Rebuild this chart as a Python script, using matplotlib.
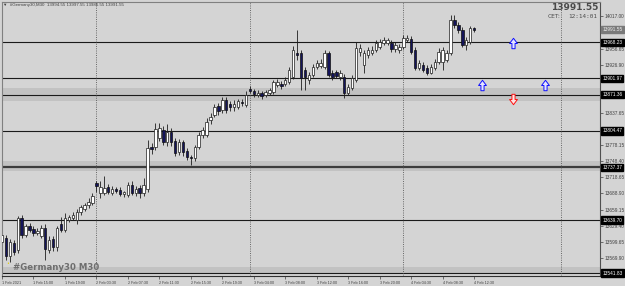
import matplotlib
matplotlib.use('Agg')
import matplotlib.pyplot as plt
import matplotlib.transforms as mtransforms
from matplotlib.path import Path
from matplotlib import font_manager
import numpy as np

# M30 bars, bar 0 = 1 Feb 11:00
opens = [13600, 13606, 13573, 13597, 13584, 13643, 13612, 13628, 13623, 13615,
         13610, 13625, 13585, 13605, 13590, 13632, 13622, 13640, 13644, 13640,
         13655, 13660, 13667, 13672, 13708, 13690, 13690, 13700, 13690, 13697,
         13696, 13687, 13686, 13705, 13690, 13699, 13690, 13697, 13775, 13775,
         13791, 13806, 13784, 13803, 13786, 13765, 13784, 13767, 13757, 13754,
         13775, 13797, 13797, 13825, 13834, 13851, 13843, 13862, 13854, 13849,
         13849, 13858, 13852, 13882, 13878, 13871, 13875, 13871, 13875, 13877,
         13889, 13891, 13891, 13895, 13904, 13949, 13948, 13917, 13899, 13908,
         13923, 13925, 13923, 13949, 13912, 13914, 13904, 13904, 13875, 13884,
         13899, 13950, 13926, 13945, 13948, 13954, 13960, 13967, 13967, 13967,
         13956, 13954, 13960, 13973, 13974, 13954, 13921, 13926, 13921, 13912,
         13921, 13932, 13932, 13936, 13949, 14009, 14000, 13991, 13963, 13969,
         13994.55]
highs = [13618, 13612, 13605, 13603, 13648, 13650, 13632, 13634, 13628, 13625,
         13630, 13632, 13610, 13610, 13628, 13646, 13652, 13650, 13655, 13660,
         13667, 13672, 13680, 13690, 13712, 13712, 13722, 13706, 13703, 13700,
         13700, 13694, 13710, 13712, 13703, 13704, 13718, 13788, 13782, 13819,
         13819, 13814, 13817, 13810, 13791, 13790, 13788, 13773, 13760, 13779,
         13803, 13812, 13828, 13838, 13854, 13856, 13867, 13867, 13860, 13862,
         13864, 13864, 13878, 13888, 13882, 13880, 13878, 13880, 13884, 13899,
         13901, 13897, 13904, 13923, 13962, 13991, 13954, 13923, 13913, 13928,
         13936, 13938, 13954, 13952, 13917, 13917, 13917, 13910, 13891, 13908,
         13969, 13965, 13954, 13960, 13962, 13973, 13975, 13978, 13976, 13973,
         13969, 13965, 13982, 13982, 13980, 13960, 13936, 13932, 13926, 13928,
         13938, 13958, 13960, 13954, 14019, 14019, 14006, 13997, 13978, 13998,
         13997.55]
lows = [13590, 13566, 13562, 13575, 13578, 13606, 13608, 13617, 13610, 13612,
        13606, 13565, 13578, 13582, 13583, 13617, 13618, 13636, 13640, 13632,
        13650, 13656, 13662, 13668, 13692, 13680, 13686, 13688, 13686, 13689,
        13684, 13683, 13683, 13686, 13684, 13680, 13685, 13692, 13762, 13769,
        13786, 13779, 13777, 13777, 13758, 13760, 13758, 13751, 13742, 13749,
        13771, 13791, 13793, 13817, 13830, 13834, 13838, 13838, 13841, 13841,
        13845, 13851, 13849, 13875, 13867, 13867, 13864, 13867, 13871, 13873,
        13886, 13882, 13888, 13891, 13901, 13935, 13880, 13880, 13891, 13904,
        13919, 13921, 13919, 13904, 13899, 13902, 13899, 13865, 13871, 13880,
        13895, 13943, 13912, 13939, 13945, 13950, 13956, 13963, 13963, 13950,
        13950, 13949, 13956, 13969, 13947, 13917, 13917, 13914, 13908, 13910,
        13917, 13928, 13917, 13932, 13945, 13995, 13986, 13960, 13954, 13965,
        13986.55]
closes = [13612, 13573, 13600, 13580, 13643, 13612, 13628, 13621, 13615, 13620,
          13625, 13587, 13603, 13590, 13625, 13621, 13643, 13646, 13650, 13655,
          13663, 13668, 13674, 13685, 13703, 13701, 13699, 13692, 13697, 13693,
          13688, 13691, 13705, 13690, 13698, 13690, 13705, 13773, 13771, 13808,
          13810, 13784, 13803, 13784, 13764, 13784, 13765, 13756, 13754, 13775,
          13797, 13806, 13821, 13830, 13849, 13841, 13862, 13843, 13849, 13854,
          13860, 13856, 13871, 13878, 13873, 13875, 13869, 13876, 13880, 13895,
          13895, 13888, 13899, 13917, 13954, 13945, 13902, 13904, 13908, 13923,
          13930, 13930, 13949, 13908, 13904, 13906, 13912, 13875, 13886, 13902,
          13958, 13958, 13948, 13954, 13954, 13967, 13969, 13973, 13973, 13956,
          13963, 13960, 13976, 13976, 13950, 13921, 13930, 13917, 13912, 13923,
          13932, 13950, 13954, 13949, 14009, 14000, 13991, 13963, 13973, 13995,
          13991.55]

# horizontal levels and zones drawn on the chart
levels = [13968.23, 13901.97, 13871.36, 13804.47, 13737.37, 13639.70, 13541.83]
zones = [(13860, 13884), (13731, 13749), (13541.83, 13553)]
last_price = 13991.55

# arrows (bar index, price)
up_arrows = [(130, 13968), (122, 13890), (138, 13890)]
down_arrows = [(130, 13863)]

day_starts = [24, 63, 102, 142]
time_idx = [0, 8, 16, 24, 32, 40, 48, 56, 64, 72, 80, 88, 96, 104, 112, 120]
time_labels = ['1 Feb 2021', '1 Feb 15:00', '1 Feb 19:00', '2 Feb 03:30',
               '2 Feb 07:30', '2 Feb 11:30', '2 Feb 15:30', '2 Feb 19:30',
               '3 Feb 04:00', '3 Feb 08:00', '3 Feb 12:00', '3 Feb 16:00',
               '3 Feb 20:00', '4 Feb 04:30', '4 Feb 08:30', '4 Feb 12:30']
# scale labels that are not hidden behind the level boxes
price_ticks = [13569.90, 13599.65, 13629.40, 13659.15, 13688.90, 13718.65,
               13748.40, 13778.15, 13837.65, 13897.15, 13926.90, 13956.65,
               14017.00]

avail = {f.name for f in font_manager.fontManager.ttflist}
if 'Liberation Sans Narrow' in avail:
    small_font, fs_axis = 'Liberation Sans Narrow', 4.0
else:
    small_font, fs_axis = 'Liberation Sans', 3.4

bg = '#d4d4d4'
fig = plt.figure(figsize=(6.25, 2.86), dpi=100, facecolor=bg)
ax = fig.add_axes([2 / 625, 10 / 286, 598 / 625, 274 / 286], facecolor=bg)
ax.set_xlim(0.22, 152.0)
ax.set_ylim(13536.3, 14042.9)

# zones and levels
for lo, hi in zones:
    ax.axhspan(lo, hi, color='#c2c2c2', lw=0, zorder=0.5)
for lv in levels:
    if lv == 13737.37:
        ax.axhline(lv, color='#3c3c3c', lw=1.6, zorder=1)
    else:
        ax.axhline(lv, color='#1a1a1a', lw=0.8, zorder=1)

for d in day_starts:
    ax.axvline(d, color='#5a5a5a', lw=0.6, ls=(0, (1.2, 1.5)), zorder=1)

# candles
x = np.arange(len(opens))
o = np.array(opens)
c = np.array(closes)
bull = c >= o
ax.vlines(x, lows, highs, color='#1e1e1e', lw=0.6, zorder=2)
body = np.maximum(np.abs(c - o), 1.0)
ax.bar(x[bull], body[bull], bottom=np.minimum(o, c)[bull], width=0.62,
       color='white', edgecolor='#1e1e1e', lw=0.5, zorder=3)
ax.bar(x[~bull], body[~bull], bottom=np.minimum(o, c)[~bull], width=0.62,
       color='#14145a', edgecolor='#101010', lw=0.5, zorder=3)

# arrows
up = Path([(-0.3, -1), (0.3, -1), (0.3, 0), (0.75, 0), (0, 1), (-0.75, 0),
           (-0.3, 0), (-0.3, -1)],
          [Path.MOVETO] + [Path.LINETO] * 6 + [Path.CLOSEPOLY])
down = Path(up.vertices * [1, -1], up.codes)
for ai, ap in up_arrows:
    ax.plot(ai, ap, marker=up, ms=7.5, mfc='#e4e4ff', mec='#1010ff', mew=0.7, zorder=4)
for ai, ap in down_arrows:
    ax.plot(ai, ap, marker=down, ms=7.5, mfc='#ffe4e4', mec='#ff1010', mew=0.7, zorder=4)

# axes
for s in ax.spines.values():
    s.set_color('#808080')
    s.set_linewidth(0.8)
ax.spines['right'].set_color('#505050')
ax.spines['bottom'].set_color('#303030')
ax.yaxis.tick_right()
ax.set_yticks(price_ticks)
ax.set_yticklabels(['%.2f' % p for p in price_ticks])
ax.set_xticks(time_idx)
ax.set_xticklabels(time_labels, ha='left')
ax.tick_params(axis='y', direction='out', length=2, width=0.5, pad=1,
               labelsize=fs_axis, colors='#404040')
ax.tick_params(axis='x', direction='out', length=2, width=0.5, pad=1.5,
               labelsize=fs_axis * 0.8, colors='#404040')
for lab in ax.get_xticklabels() + ax.get_yticklabels():
    lab.set_family(small_font)

# price boxes on the scale
trans = mtransforms.blended_transform_factory(ax.transAxes, ax.transData)
for lv in levels:
    ax.text(1.004, lv, '%.2f' % lv, transform=trans, ha='left', va='center',
            fontsize=fs_axis, color='white', family=small_font, clip_on=False,
            bbox=dict(boxstyle='square,pad=0.25', fc='black', ec='black'), zorder=5)
ax.text(1.004, last_price, '%.2f' % last_price, transform=trans, ha='left', va='center',
        fontsize=fs_axis, color='#f0f0f0', family=small_font, clip_on=False,
        bbox=dict(boxstyle='square,pad=0.25', fc='#7a7a7a', ec='#7a7a7a'), zorder=5)

# overlay texts
fig.text(3 / 625, 1 - 5 / 286,
         '\u25bc  #Germany30,M30  13994.55 13997.55 13986.55 13991.55',
         fontsize=3.2, color='#404040', va='center', ha='left', family=small_font)
fig.text(598 / 625, 1 - 7.5 / 286, '13991.55', fontsize=6.5, weight='bold',
         color='#4a4a4a', ha='right', va='center')
fig.text(548 / 625, 1 - 16 / 286, 'CET:', fontsize=4.3, color='#4a4a4a',
         ha='left', va='center')
fig.text(597 / 625, 1 - 16 / 286, '12:14:01', fontsize=4.3, color='#4a4a4a',
         ha='right', va='center', family='DejaVu Sans Mono')
fig.text(13 / 625, 1 - 268 / 286, '#Germany30 M30', fontsize=6.2, weight='bold',
         color='#6e6e6e', ha='left', va='center')
fig.text(6 / 625, 1 - 264 / 286, '\u2022', fontsize=3.5, color='#e8d000',
         ha='left', va='center')

fig.savefig('out.png', dpi=100, facecolor=bg)
